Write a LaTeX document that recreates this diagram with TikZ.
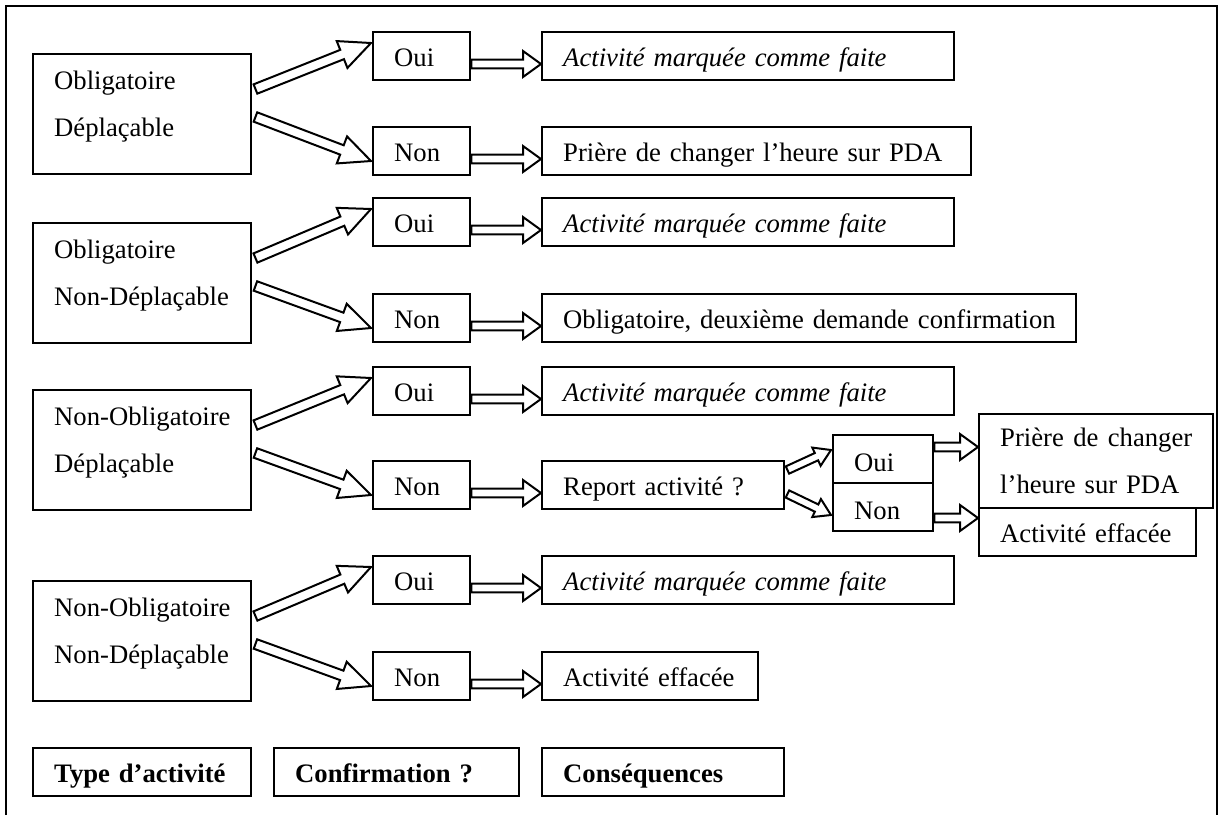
\documentclass[tikz,border=0pt]{standalone}
\usepackage{fontspec}
\setmainfont{Liberation Serif}
\usepackage{tikz}
\usetikzlibrary{calc}
\newlength{\unitpx}
\setlength{\unitpx}{0.45pt}
\exhyphenpenalty=10000
\hyphenpenalty=10000

\begin{document}
\begin{tikzpicture}[
        x=0.45pt, y=-0.45pt,
        every node/.style={font=\fontsize{12}{21.15}\selectfont},
        box/.style={rectangle, draw=black, line width=1.1pt, anchor=north west, align=left, inner xsep=21\unitpx, inner ysep=0pt, text width=#1\unitpx, text height=34\unitpx, text depth=14\unitpx},
        typebox/.style={box=176, text height=35\unitpx, text depth=85\unitpx},
        hollow/.style n args={3}{line width=0.9pt, to path={
            -- ($(\tikztostart)!#1!90:(\tikztotarget)$)
            -- ($(\tikztotarget)!#3!(\tikztostart) + (\tikztotarget)!#1!-90:(\tikztostart) - (\tikztotarget)$)
            -- ($(\tikztotarget)!#3!(\tikztostart) + (\tikztotarget)!#2!-90:(\tikztostart) - (\tikztotarget)$)
            -- (\tikztotarget)
            -- ($(\tikztotarget)!#3!(\tikztostart) + (\tikztotarget)!#2!90:(\tikztostart) - (\tikztotarget)$)
            -- ($(\tikztotarget)!#3!(\tikztostart) + (\tikztotarget)!#1!90:(\tikztostart) - (\tikztotarget)$)
            -- ($(\tikztostart)!#1!-90:(\tikztotarget)$)
            -- cycle}},
        bigarrow/.style={hollow={2.25pt}{6.5pt}{14pt}},
        smallarrow/.style={hollow={2pt}{5.85pt}{8.1pt}},
        midarrow/.style={hollow={1.8pt}{4.5pt}{7.2pt}}
    ]
    \useasboundingbox (0,0) rectangle (1219,815);
    % Cadre
    \draw[line width=1.2pt] (6,815) -- (6,6) -- (1217,6) -- (1217,815);

    % Obligatoire, Déplaçable
    \node[typebox] (t1) at (32,53) {Obligatoire\\Déplaçable};
    \node[box=55] (oui1) at (372,31) {Oui};
    \node[box=55] (non1) at (372,126) {Non};
    \node[box=370] (fait1) at (541,31) {\textit{Activité marquée comme faite}};
    \node[box=387] (heure1) at (541,126) {Prière de changer l'heure sur PDA};
    \draw[bigarrow] ([shift={(3,36)}]t1.north east) to ([shift={(-1,12)}]oui1.north west);
    \draw[bigarrow] ([shift={(3,64)}]t1.north east) to ([shift={(-1,35)}]non1.north west);
    \draw[smallarrow] ([shift={(0,33)}]oui1.north east) to ([shift={(0,33)}]fait1.north west);
    \draw[smallarrow] ([shift={(0,33)}]non1.north east) to ([shift={(0,33)}]heure1.north west);

    % Obligatoire, Non-Déplaçable
    \node[typebox] (t2) at (32,222) {Obligatoire\\Non-Déplaçable};
    \node[box=55] (oui2) at (372,197) {Oui};
    \node[box=55] (non2) at (372,293) {Non};
    \node[box=370] (fait2) at (541,197) {\textit{Activité marquée comme faite}};
    \node[box=492] (confirm2) at (541,293) {Obligatoire,~deuxième~demande~confirmation};
    \draw[bigarrow] ([shift={(3,36)}]t2.north east) to ([shift={(-1,12)}]oui2.north west);
    \draw[bigarrow] ([shift={(3,64)}]t2.north east) to ([shift={(-1,35)}]non2.north west);
    \draw[smallarrow] ([shift={(0,33)}]oui2.north east) to ([shift={(0,33)}]fait2.north west);
    \draw[smallarrow] ([shift={(0,33)}]non2.north east) to ([shift={(0,33)}]confirm2.north west);

    % Non-Obligatoire, Déplaçable
    \node[typebox] (t3) at (32,389) {Non-Obligatoire\\Déplaçable};
    \node[box=55] (oui3) at (372,366) {Oui};
    \node[box=55] (non3) at (372,460) {Non};
    \node[box=370] (fait3) at (541,366) {\textit{Activité marquée comme faite}};
    \node[box=200] (report3) at (541,460) {Report activité ?};
    \draw[bigarrow] ([shift={(3,36)}]t3.north east) to ([shift={(-1,12)}]oui3.north west);
    \draw[bigarrow] ([shift={(3,64)}]t3.north east) to ([shift={(-1,35)}]non3.north west);
    \draw[smallarrow] ([shift={(0,33)}]oui3.north east) to ([shift={(0,33)}]fait3.north west);
    \draw[smallarrow] ([shift={(0,33)}]non3.north east) to ([shift={(0,33)}]report3.north west);

    % Report activité ?
    \node[box=58, text height=36\unitpx, text depth=12\unitpx] (rep3oui) at (832,434) {Oui};
    \node[box=58, text height=36\unitpx, text depth=12\unitpx] (rep3non) at (832,482) {Non};
    \node[box=192, text height=32\unitpx, text depth=62\unitpx] (heure3) at (978,413) {Prière\hfill de\hfill changer\\l'heure sur PDA};
    \node[box=175] (efface3) at (978,507) {Activité effacée};
    \draw[midarrow] ([shift={(2,10)}]report3.north east) to ([shift={(-1,16)}]rep3oui.north west);
    \draw[midarrow] ([shift={(2,34)}]report3.north east) to ([shift={(-1,33)}]rep3non.north west);
    \draw[smallarrow] ([shift={(0,13)}]rep3oui.north east) to ([shift={(0,34)}]heure3.north west);
    \draw[smallarrow] ([shift={(0,36)}]rep3non.north east) to ([shift={(0,11)}]efface3.north west);

    % Non-Obligatoire, Non-Déplaçable
    \node[typebox] (t4) at (32,580) {Non-Obligatoire\\Non-Déplaçable};
    \node[box=55] (oui4) at (372,555) {Oui};
    \node[box=55] (non4) at (372,651) {Non};
    \node[box=370] (fait4) at (541,555) {\textit{Activité marquée comme faite}};
    \node[box=174] (efface4) at (541,651) {Activité effacée};
    \draw[bigarrow] ([shift={(3,36)}]t4.north east) to ([shift={(-1,12)}]oui4.north west);
    \draw[bigarrow] ([shift={(3,64)}]t4.north east) to ([shift={(-1,35)}]non4.north west);
    \draw[smallarrow] ([shift={(0,33)}]oui4.north east) to ([shift={(0,33)}]fait4.north west);
    \draw[smallarrow] ([shift={(0,33)}]non4.north east) to ([shift={(0,33)}]efface4.north west);

    % Légende des colonnes
    \node[box=176] (legtype) at (32,747) {\textbf{Type d'activité}};
    \node[box=203] (legconf) at (273,747) {\textbf{Confirmation ?}};
    \node[box=200] (legcons) at (541,747) {\textbf{Conséquences}};
\end{tikzpicture}
\end{document}
